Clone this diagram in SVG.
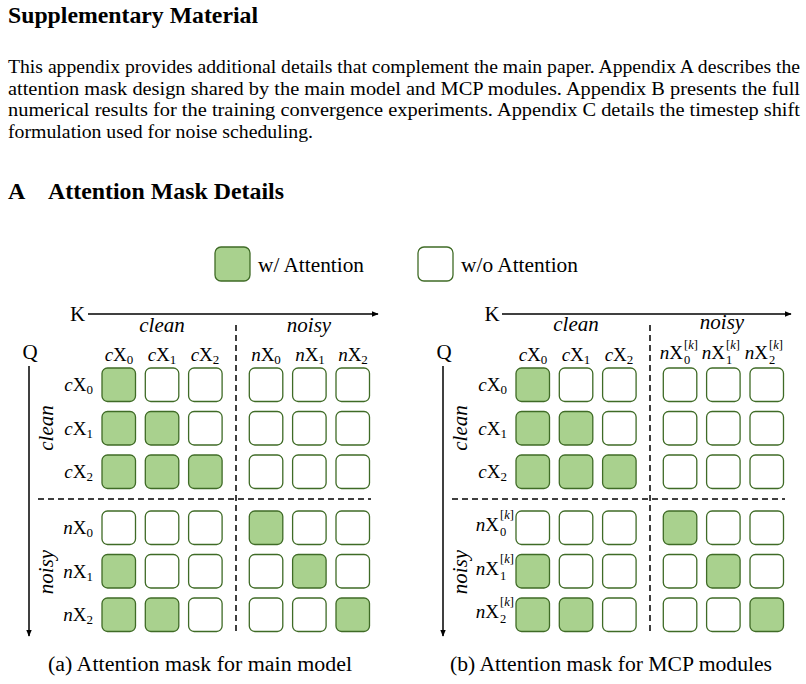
<svg xmlns="http://www.w3.org/2000/svg" width="806" height="684" viewBox="0 0 806 684">
<style>
text{font-family:"Liberation Serif","Times New Roman",serif;fill:#000}
.h{font-weight:bold;font-size:24px}
.p{font-size:19.5px}
.lg{font-size:21px}
.cap{font-size:20px}
.it{font-style:italic}
.grp{font-size:21px;font-style:italic}
.ax-l{font-size:21px}
.lb{font-size:19px}
.sub{font-size:13px}
.sc{font-size:12.5px}
.on{fill:#a9d18e;stroke:#3f6b26;stroke-width:1.3}
.off{fill:#fff;stroke:#3f6b26;stroke-width:1.3}
.dash{stroke:#000;stroke-width:1.5;stroke-dasharray:6 4;fill:none}
.ax{stroke:#000;stroke-width:1.5;fill:none}
</style>
<defs>
<marker id="ah" viewBox="0 0 10 10" refX="9" refY="5" markerWidth="7" markerHeight="7" markerUnits="userSpaceOnUse" orient="auto"><path d="M0,1 L10,5 L0,9 Z" fill="#000"/></marker>
<rect id="c1" width="33.5" height="33.5" rx="5.5" class="on"/>
<rect id="c0" width="33.5" height="33.5" rx="5.5" class="off"/>
</defs>

<g id="header">
<text class="h" x="8" y="23" textLength="250" lengthAdjust="spacingAndGlyphs">Supplementary Material</text>
<text class="p" x="8" y="73" textLength="792" lengthAdjust="spacingAndGlyphs">This appendix provides additional details that complement the main paper. Appendix A describes the</text>
<text class="p" x="8" y="94.5" textLength="792" lengthAdjust="spacingAndGlyphs">attention mask design shared by the main model and MCP modules. Appendix B presents the full</text>
<text class="p" x="8" y="116" textLength="792" lengthAdjust="spacingAndGlyphs">numerical results for the training convergence experiments. Appendix C details the timestep shift</text>
<text class="p" x="8" y="137.5" textLength="305" lengthAdjust="spacingAndGlyphs">formulation used for noise scheduling.</text>
<text class="h" x="8" y="199">A</text>
<text class="h" x="48" y="199" textLength="236" lengthAdjust="spacingAndGlyphs">Attention Mask Details</text>
</g>

<g id="legend">
<rect x="215" y="247" width="35" height="34" rx="6" class="on"/>
<text class="lg" x="258" y="272" textLength="106" lengthAdjust="spacingAndGlyphs">w/ Attention</text>
<rect x="418" y="247" width="35" height="34" rx="6" class="off"/>
<text class="lg" x="461" y="272" textLength="117" lengthAdjust="spacingAndGlyphs">w/o Attention</text>
</g>

<g id="connectors">
<line class="ax" x1="88" y1="314" x2="378" y2="314" marker-end="url(#ah)"/>
<line class="ax" x1="29" y1="366" x2="29" y2="636" marker-end="url(#ah)"/>
<line class="dash" x1="236" y1="325" x2="236" y2="632"/>
<line class="dash" x1="38" y1="499" x2="371" y2="499"/>
<line class="ax" x1="502" y1="314" x2="791" y2="314" marker-end="url(#ah)"/>
<line class="ax" x1="443" y1="366" x2="443" y2="636" marker-end="url(#ah)"/>
<line class="dash" x1="650" y1="325" x2="650" y2="632"/>
<line class="dash" x1="452" y1="499" x2="785" y2="499"/>
</g>

<g id="maskA">
<text class="ax-l" x="77.5" y="321" text-anchor="middle">K</text>
<text class="ax-l" x="30" y="359" text-anchor="middle">Q</text>
<text class="grp" x="162" y="332" text-anchor="middle">clean</text>
<text class="grp" x="309" y="332" text-anchor="middle">noisy</text>
<text class="grp" transform="translate(53,428) rotate(-90)" text-anchor="middle">clean</text>
<text class="grp" transform="translate(53,572) rotate(-90)" text-anchor="middle">noisy</text>
<g class="lb" text-anchor="middle">
<text x="119" y="361"><tspan class="it">c</tspan>X<tspan class="sub" dy="3">0</tspan></text>
<text x="162" y="361"><tspan class="it">c</tspan>X<tspan class="sub" dy="3">1</tspan></text>
<text x="205" y="361"><tspan class="it">c</tspan>X<tspan class="sub" dy="3">2</tspan></text>
<text x="266" y="361"><tspan class="it">n</tspan>X<tspan class="sub" dy="3">0</tspan></text>
<text x="310" y="361"><tspan class="it">n</tspan>X<tspan class="sub" dy="3">1</tspan></text>
<text x="353" y="361"><tspan class="it">n</tspan>X<tspan class="sub" dy="3">2</tspan></text>
</g>
<g class="lb" text-anchor="end">
<text x="93" y="391"><tspan class="it">c</tspan>X<tspan class="sub" dy="3">0</tspan></text>
<text x="93" y="434.5"><tspan class="it">c</tspan>X<tspan class="sub" dy="3">1</tspan></text>
<text x="93" y="478"><tspan class="it">c</tspan>X<tspan class="sub" dy="3">2</tspan></text>
<text x="93" y="534"><tspan class="it">n</tspan>X<tspan class="sub" dy="3">0</tspan></text>
<text x="93" y="577.5"><tspan class="it">n</tspan>X<tspan class="sub" dy="3">1</tspan></text>
<text x="93" y="621"><tspan class="it">n</tspan>X<tspan class="sub" dy="3">2</tspan></text>
</g>
<g id="cellsA">
<use href="#c1" x="102" y="368"/><use href="#c0" x="145.3" y="368"/><use href="#c0" x="188.6" y="368"/><use href="#c0" x="249.3" y="368"/><use href="#c0" x="292.6" y="368"/><use href="#c0" x="336" y="368"/>
<use href="#c1" x="102" y="411.5"/><use href="#c1" x="145.3" y="411.5"/><use href="#c0" x="188.6" y="411.5"/><use href="#c0" x="249.3" y="411.5"/><use href="#c0" x="292.6" y="411.5"/><use href="#c0" x="336" y="411.5"/>
<use href="#c1" x="102" y="455"/><use href="#c1" x="145.3" y="455"/><use href="#c1" x="188.6" y="455"/><use href="#c0" x="249.3" y="455"/><use href="#c0" x="292.6" y="455"/><use href="#c0" x="336" y="455"/>
<use href="#c0" x="102" y="511"/><use href="#c0" x="145.3" y="511"/><use href="#c0" x="188.6" y="511"/><use href="#c1" x="249.3" y="511"/><use href="#c0" x="292.6" y="511"/><use href="#c0" x="336" y="511"/>
<use href="#c1" x="102" y="554.5"/><use href="#c0" x="145.3" y="554.5"/><use href="#c0" x="188.6" y="554.5"/><use href="#c0" x="249.3" y="554.5"/><use href="#c1" x="292.6" y="554.5"/><use href="#c0" x="336" y="554.5"/>
<use href="#c1" x="102" y="598"/><use href="#c1" x="145.3" y="598"/><use href="#c0" x="188.6" y="598"/><use href="#c0" x="249.3" y="598"/><use href="#c0" x="292.6" y="598"/><use href="#c1" x="336" y="598"/>
</g>
<text class="cap" x="48" y="671" textLength="304" lengthAdjust="spacingAndGlyphs">(a) Attention mask for main model</text>
</g>

<g id="maskB">
<text class="ax-l" x="492" y="321" text-anchor="middle">K</text>
<text class="ax-l" x="444" y="359" text-anchor="middle">Q</text>
<text class="grp" x="576" y="331" text-anchor="middle">clean</text>
<text class="grp" x="722" y="329" text-anchor="middle">noisy</text>
<text class="grp" transform="translate(467,428) rotate(-90)" text-anchor="middle">clean</text>
<text class="grp" transform="translate(467,572) rotate(-90)" text-anchor="middle">noisy</text>
<g class="lb" text-anchor="middle">
<text x="533" y="361"><tspan class="it">c</tspan>X<tspan class="sub" dy="3">0</tspan></text>
<text x="576" y="361"><tspan class="it">c</tspan>X<tspan class="sub" dy="3">1</tspan></text>
<text x="619" y="361"><tspan class="it">c</tspan>X<tspan class="sub" dy="3">2</tspan></text>
</g>
<g class="lb">
<text x="683" y="359" text-anchor="end"><tspan class="it">n</tspan>X</text>
<text class="sc" x="684" y="349">[<tspan class="it">k</tspan>]</text>
<text class="sc" x="684" y="364">0</text>
<text x="725" y="359" text-anchor="end"><tspan class="it">n</tspan>X</text>
<text class="sc" x="726" y="349">[<tspan class="it">k</tspan>]</text>
<text class="sc" x="726" y="364">1</text>
<text x="768" y="359" text-anchor="end"><tspan class="it">n</tspan>X</text>
<text class="sc" x="769" y="349">[<tspan class="it">k</tspan>]</text>
<text class="sc" x="769" y="364">2</text>
</g>
<g class="lb" text-anchor="end">
<text x="507" y="391"><tspan class="it">c</tspan>X<tspan class="sub" dy="3">0</tspan></text>
<text x="507" y="434.5"><tspan class="it">c</tspan>X<tspan class="sub" dy="3">1</tspan></text>
<text x="507" y="478"><tspan class="it">c</tspan>X<tspan class="sub" dy="3">2</tspan></text>
</g>
<g class="lb">
<text x="499" y="531" text-anchor="end"><tspan class="it">n</tspan>X</text>
<text class="sc" x="500" y="519">[<tspan class="it">k</tspan>]</text>
<text class="sc" x="500" y="536">0</text>
<text x="499" y="574.5" text-anchor="end"><tspan class="it">n</tspan>X</text>
<text class="sc" x="500" y="562.5">[<tspan class="it">k</tspan>]</text>
<text class="sc" x="500" y="579.5">1</text>
<text x="499" y="618" text-anchor="end"><tspan class="it">n</tspan>X</text>
<text class="sc" x="500" y="606">[<tspan class="it">k</tspan>]</text>
<text class="sc" x="500" y="623">2</text>
</g>
<g id="cellsB">
<use href="#c1" x="516" y="368"/><use href="#c0" x="559.3" y="368"/><use href="#c0" x="602.6" y="368"/><use href="#c0" x="663.3" y="368"/><use href="#c0" x="706.6" y="368"/><use href="#c0" x="750" y="368"/>
<use href="#c1" x="516" y="411.5"/><use href="#c1" x="559.3" y="411.5"/><use href="#c0" x="602.6" y="411.5"/><use href="#c0" x="663.3" y="411.5"/><use href="#c0" x="706.6" y="411.5"/><use href="#c0" x="750" y="411.5"/>
<use href="#c1" x="516" y="455"/><use href="#c1" x="559.3" y="455"/><use href="#c1" x="602.6" y="455"/><use href="#c0" x="663.3" y="455"/><use href="#c0" x="706.6" y="455"/><use href="#c0" x="750" y="455"/>
<use href="#c0" x="516" y="511"/><use href="#c0" x="559.3" y="511"/><use href="#c0" x="602.6" y="511"/><use href="#c1" x="663.3" y="511"/><use href="#c0" x="706.6" y="511"/><use href="#c0" x="750" y="511"/>
<use href="#c1" x="516" y="554.5"/><use href="#c0" x="559.3" y="554.5"/><use href="#c0" x="602.6" y="554.5"/><use href="#c0" x="663.3" y="554.5"/><use href="#c1" x="706.6" y="554.5"/><use href="#c0" x="750" y="554.5"/>
<use href="#c1" x="516" y="598"/><use href="#c1" x="559.3" y="598"/><use href="#c0" x="602.6" y="598"/><use href="#c0" x="663.3" y="598"/><use href="#c0" x="706.6" y="598"/><use href="#c1" x="750" y="598"/>
</g>
<text class="cap" x="450" y="671" textLength="322" lengthAdjust="spacingAndGlyphs">(b) Attention mask for MCP modules</text>
</g>
</svg>
